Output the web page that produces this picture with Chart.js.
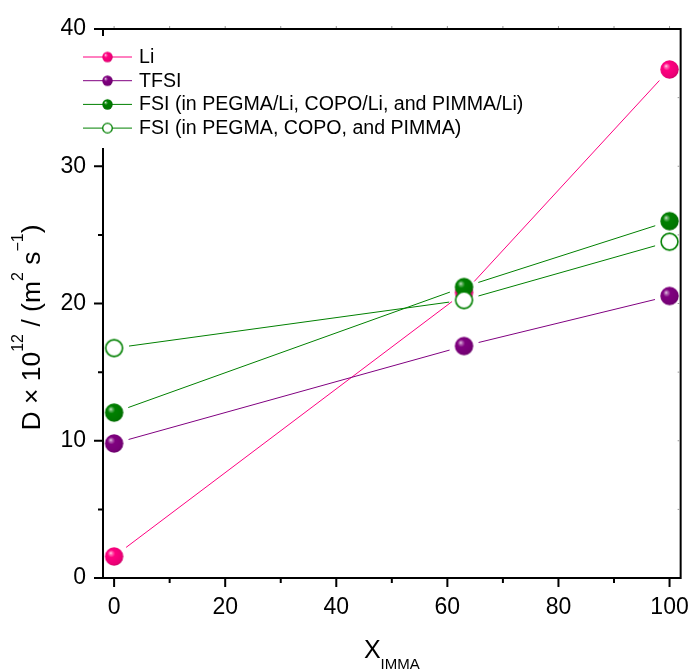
<!DOCTYPE html>
<html>
<head>
<meta charset="utf-8">
<script src="https://cdn.jsdelivr.net/npm/chart.js@4.4.1/dist/chart.umd.min.js"></script>
<style>
  html, body { margin: 0; padding: 0; background: #ffffff; }
  #wrap { width: 696px; height: 670px; }
</style>
</head>
<body>
<div id="wrap"><canvas id="c" width="696" height="670"></canvas></div>
<script>
// IMMA mole fraction (%) and diffusion coefficients D (10^-12 m^2 s^-1)
const xImma = [0, 63, 100];
const dLi = [1.57, 20.8, 37.05];
const dTfsi = [9.8, 16.9, 20.55];
const dFsiSalt = [12.05, 21.2, 26.0];
const dFsiNeat = [16.75, 20.25, 24.5];

const seriesLabels = [
  'Li',
  'TFSI',
  'FSI (in PEGMA/Li, COPO/Li, and PIMMA/Li)',
  'FSI (in PEGMA, COPO, and PIMMA)'
];
const xTickValues = [0, 20, 40, 60, 80, 100];
const yTickValues = [0, 10, 20, 30, 40];

const FONT = "'Liberation Sans', Arial, sans-serif";
const PINK = [255, 0, 128];
const PURPLE = [128, 0, 128];
const GREEN = [0, 128, 0];

function rgb(c, t, toward) {
  const w = toward || [255, 255, 255];
  return 'rgb(' + c.map((v, i) => Math.round(v + (w[i] - v) * t)).join(',') + ')';
}

// shaded ball marker
function ball(c, r) {
  const cv = document.createElement('canvas');
  const s = Math.ceil(r * 2 + 2);
  cv.width = s; cv.height = s;
  const g = cv.getContext('2d');
  const cx = s / 2, cy = s / 2;
  const grad = g.createRadialGradient(cx - r * 0.38, cy - r * 0.38, 0, cx - r * 0.15, cy - r * 0.15, r * 1.2);
  grad.addColorStop(0, rgb(c, 0.85));
  grad.addColorStop(0.12, rgb(c, 0.45));
  grad.addColorStop(0.34, rgb(c, 0));
  grad.addColorStop(0.85, rgb(c, 0.08, [0, 0, 0]));
  grad.addColorStop(1, rgb(c, 0.2, [0, 0, 0]));
  g.fillStyle = grad;
  g.beginPath(); g.arc(cx, cy, r, 0, Math.PI * 2); g.fill();
  return cv;
}

// hollow circle marker
function ring(c, r, lw) {
  const cv = document.createElement('canvas');
  const s = Math.ceil(r * 2 + lw + 2);
  cv.width = s; cv.height = s;
  const g = cv.getContext('2d');
  g.fillStyle = '#ffffff';
  g.strokeStyle = rgb(c, 0);
  g.lineWidth = lw;
  g.beginPath(); g.arc(s / 2, s / 2, r, 0, Math.PI * 2); g.fill(); g.stroke();
  return cv;
}

const markers = [ball(PINK, 9.2), ball(PURPLE, 9.2), ball(GREEN, 9.2), ring(GREEN, 8.4, 1.6)];
const legendMarkers = [ball(PINK, 5.2), ball(PURPLE, 5.2), ball(GREEN, 5.2), ring(GREEN, 4.8, 1.3)];
const colors = [PINK, PURPLE, GREEN, GREEN];
const values = [dLi, dTfsi, dFsiSalt, dFsiNeat];

function pts(arr) { return xImma.map((x, i) => ({ x: x, y: arr[i] })); }

// axis frame with major/minor tick marks
const frame = {
  id: 'frame',
  beforeDatasetsDraw(chart) {
    const { ctx, chartArea: a } = chart;
    const xs = chart.scales.x, ys = chart.scales.y;
    ctx.save();
    ctx.strokeStyle = '#000';
    ctx.lineWidth = 2;
    ctx.lineCap = 'butt';
    ctx.strokeRect(a.left, a.top, a.right - a.left, a.bottom - a.top);
    ctx.beginPath();
    for (let v = 0; v <= 100; v += 10) {
      const px = xs.getPixelForValue(v);
      const len = v % 20 === 0 ? 9 : 5;
      ctx.moveTo(px, a.bottom); ctx.lineTo(px, a.bottom + len);
    }
    for (let v = 0; v <= 40; v += 5) {
      const py = ys.getPixelForValue(v);
      const len = v % 10 === 0 ? 9 : 5;
      ctx.moveTo(a.left, py); ctx.lineTo(a.left - len, py);
    }
    ctx.stroke();
    ctx.lineWidth = 1;
    ctx.strokeStyle = '#9a9a9a';
    ctx.beginPath();
    for (let v = 0; v <= 100; v += 10) {
      const px = xs.getPixelForValue(v);
      ctx.moveTo(px, a.top - 1); ctx.lineTo(px, a.top - 3);
    }
    for (let v = 5; v <= 35; v += 5) {
      const py = ys.getPixelForValue(v);
      ctx.moveTo(a.right - 1, py); ctx.lineTo(a.right - 3, py);
    }
    ctx.stroke();
    ctx.restore();
  }
};

// connecting lines that stop short of each marker
const gapLines = {
  id: 'gapLines',
  beforeDatasetsDraw(chart) {
    const ctx = chart.ctx;
    ctx.save();
    ctx.lineWidth = 1;
    chart.data.datasets.forEach((ds, i) => {
      const p = chart.getDatasetMeta(i).data;
      ctx.strokeStyle = ds.borderColor;
      for (let k = 0; k < p.length - 1; k++) {
        const a = p[k], b = p[k + 1];
        const dx = b.x - a.x, dy = b.y - a.y, len = Math.hypot(dx, dy);
        const ux = dx / len, uy = dy / len, gap = 15;
        ctx.beginPath();
        ctx.moveTo(a.x + ux * gap, a.y + uy * gap);
        ctx.lineTo(b.x - ux * gap, b.y - uy * gap);
        ctx.stroke();
      }
    });
    ctx.restore();
  }
};

function drawRich(ctx, parts, x0, y0, big, small) {
  let x = x0;
  parts.forEach(p => {
    ctx.font = (p.s ? small : big) + 'px ' + FONT;
    ctx.fillText(p.t, x, y0 + (p.dy || 0));
    x += ctx.measureText(p.t).width;
  });
}
function richWidth(ctx, parts, big, small) {
  let w = 0;
  parts.forEach(p => { ctx.font = (p.s ? small : big) + 'px ' + FONT; w += ctx.measureText(p.t).width; });
  return w;
}

// legend box and axis titles
const annotations = {
  id: 'annotations',
  afterDraw(chart) {
    const ctx = chart.ctx;
    const a = chart.chartArea;
    ctx.save();
    // legend
    ctx.fillStyle = '#ffffff';
    ctx.fillRect(78, 36, 392, 112);
    const rowY0 = 57, rowStep = 23.7;
    seriesLabels.forEach((lab, i) => {
      const y = rowY0 + i * rowStep;
      ctx.strokeStyle = rgb(colors[i], 0);
      ctx.lineWidth = 1;
      ctx.beginPath(); ctx.moveTo(83, y); ctx.lineTo(132, y); ctx.stroke();
      const m = legendMarkers[i];
      ctx.drawImage(m, 107.5 - m.width / 2, y - m.height / 2);
      ctx.fillStyle = '#000';
      ctx.font = '19.6px ' + FONT;
      ctx.textBaseline = 'middle';
      ctx.textAlign = 'left';
      ctx.fillText(lab, 139, y + 0.5);
    });

    ctx.fillStyle = '#000';
    ctx.textBaseline = 'alphabetic';
    ctx.textAlign = 'left';
    // x title
    const xParts = [{ t: 'X' }, { t: 'IMMA', s: true, dy: 11 }];
    const xw = richWidth(ctx, xParts, 25, 15);
    drawRich(ctx, xParts, (a.left + a.right) / 2 - xw / 2, 658, 25, 15);
    // y title
    const yParts = [
      { t: 'D \u00d7 10' }, { t: '12', s: true, dy: -17 },
      { t: ' / (m' }, { t: '2', s: true, dy: -17 },
      { t: ' s' }, { t: '\u22121', s: true, dy: -17 }, { t: ')' }
    ];
    const yw = richWidth(ctx, yParts, 26.5, 16);
    ctx.translate(40, 327.5);
    ctx.rotate(-Math.PI / 2);
    drawRich(ctx, yParts, -yw / 2, 0, 26.5, 16);
    ctx.restore();
  }
};

const datasets = seriesLabels.map((lab, i) => ({
  label: lab,
  data: pts(values[i]),
  borderColor: rgb(colors[i], 0),
  backgroundColor: rgb(colors[i], 0),
  showLine: false,
  pointStyle: markers[i],
  pointRadius: 9,
  pointHoverRadius: 9,
  order: 4 - i
}));

new Chart(document.getElementById('c'), {
  type: 'line',
  data: { datasets: datasets },
  options: {
    responsive: false,
    animation: false,
    events: [],
    layout: { padding: { left: 0, right: 14, top: 29, bottom: 0 } },
    plugins: { legend: { display: false }, tooltip: { enabled: false } },
    scales: {
      x: {
        type: 'linear',
        min: -2, max: 102,
        afterFit(s) { s.height = 92; },
        afterBuildTicks(s) { s.ticks = xTickValues.map(v => ({ value: v })); },
        grid: { display: true, drawOnChartArea: false, drawTicks: true, tickLength: 9, color: 'rgba(0,0,0,0)' },
        border: { display: false },
        ticks: { color: '#000', padding: 7, maxRotation: 0, font: { family: FONT, size: 23 } }
      },
      y: {
        type: 'linear',
        min: 0, max: 40,
        afterFit(s) { s.width = 103; },
        afterBuildTicks(s) { s.ticks = yTickValues.map(v => ({ value: v })); },
        grid: { display: true, drawOnChartArea: false, drawTicks: true, tickLength: 9, color: 'rgba(0,0,0,0)' },
        border: { display: false },
        ticks: { color: '#000', padding: 8, font: { family: FONT, size: 23 } }
      }
    }
  },
  plugins: [frame, gapLines, annotations]
});
</script>
</body>
</html>
